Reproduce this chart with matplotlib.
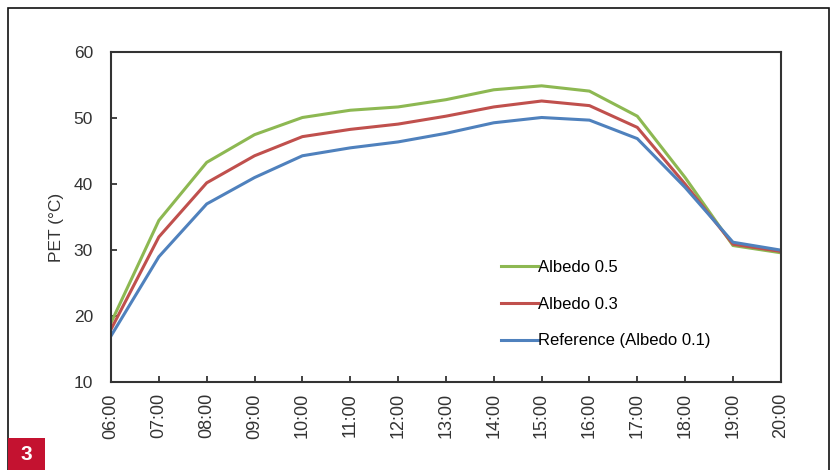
import numpy as np
import matplotlib
matplotlib.use("Agg")
import matplotlib.pyplot as plt
from matplotlib.patches import Rectangle

plt.rcParams['font.family'] = ['Liberation Sans', 'DejaVu Sans']

# data
hours = ['06:00', '07:00', '08:00', '09:00', '10:00', '11:00', '12:00', '13:00',
         '14:00', '15:00', '16:00', '17:00', '18:00', '19:00', '20:00']
albedo05 = [19.0, 34.5, 43.3, 47.5, 50.1, 51.2, 51.7, 52.8, 54.3, 54.9, 54.1, 50.3, 41.0, 30.7, 29.6]
albedo03 = [18.0, 32.0, 40.2, 44.3, 47.2, 48.3, 49.1, 50.3, 51.7, 52.6, 51.9, 48.6, 40.0, 30.9, 29.8]
albedo01 = [17.0, 29.0, 37.0, 41.0, 44.3, 45.5, 46.4, 47.7, 49.3, 50.1, 49.7, 46.9, 39.5, 31.2, 30.0]
labels = ['Albedo 0.5', 'Albedo 0.3', 'Reference (Albedo 0.1)']
colors = ['#8DB852', '#C0504D', '#4F81BD']

fig = plt.figure(figsize=(8.36, 4.70), dpi=100)
ax = fig.add_axes([0.1328, 0.187, 0.8012, 0.702])

x = np.arange(len(hours))
for ys, lab, c in zip([albedo05, albedo03, albedo01], labels, colors):
    ax.plot(x, ys, color=c, lw=2.2, label=lab)

ax.set_xlim(0, len(hours) - 1)
ax.set_ylim(10, 60)
ax.set_yticks([10, 20, 30, 40, 50, 60])
ax.set_xticks(x)
ax.set_xticklabels(hours, rotation=90, fontsize=13, color='#333333')
ax.tick_params(axis='y', labelsize=12.5, labelcolor='#333333', pad=13)
ax.tick_params(axis='x', pad=8)
ax.tick_params(direction='in', length=4, width=1.2, color='#222222')
ax.set_ylabel('PET (°C)', fontsize=12.5, color='#333333')
ax.yaxis.set_label_coords(-0.07, 0.47)
for s in ax.spines.values():
    s.set_color('#333333')
    s.set_linewidth(1.5)

ax.legend(loc='center left', bbox_to_anchor=(0.56, 0.236), frameon=False,
          fontsize=12, handlelength=2.2, handletextpad=0.0, labelspacing=1.3)

# outer frame and figure number
fig.patches.append(Rectangle((8 / 836, -0.05), (829 - 8) / 836, 1.05 - 8 / 470,
                             transform=fig.transFigure, fill=False,
                             edgecolor='#111111', lw=1.2))
fig.patches.append(Rectangle((8 / 836, 0), 37 / 836, 32 / 470,
                             transform=fig.transFigure, facecolor='#C41230',
                             edgecolor='none'))
fig.text(26.5 / 836, 16 / 470, '3', color='white', fontsize=15, fontweight='bold',
         ha='center', va='center')

fig.savefig('out.png', dpi=100)
